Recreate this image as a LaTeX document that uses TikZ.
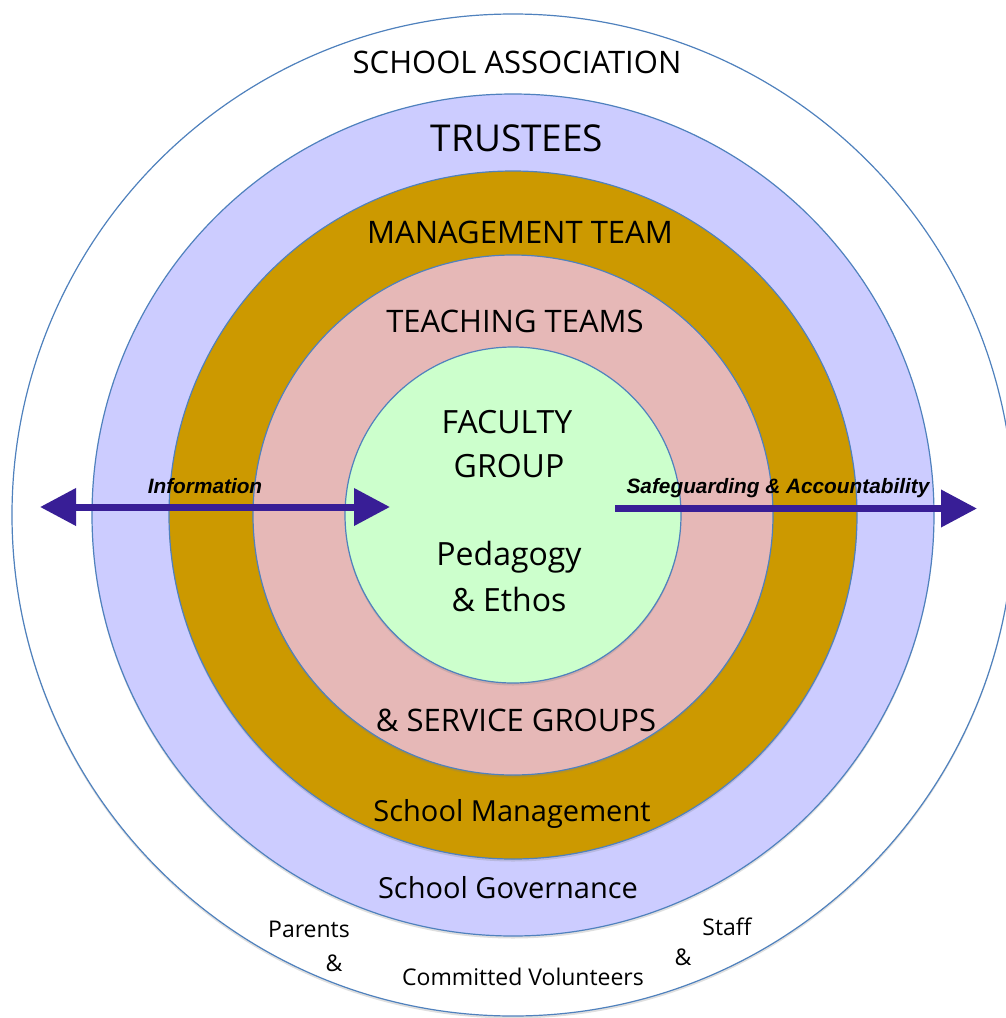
\documentclass[tikz,border=0pt]{standalone}
\usepackage{fontspec}
\setmainfont{Open Sans}
\newfontfamily\arrowfont{Liberation Sans}
\usetikzlibrary{arrows.meta,shadows}

\definecolor{ringline}{RGB}{79,129,189}
\definecolor{governance}{RGB}{204,204,255}
\definecolor{management}{RGB}{204,153,0}
\definecolor{teaching}{RGB}{230,184,183}
\definecolor{faculty}{RGB}{204,255,204}
\definecolor{flow}{RGB}{56,30,150}
\newcommand\ringfont[1]{\fontsize{#1}{#1}\selectfont}

\begin{document}
\begin{tikzpicture}[x=1pt,y=-1pt,
	ring/.style={draw=ringline, line width=1.2pt, drop shadow={opacity=0.25, shadow xshift=0pt, shadow yshift=-2.5pt}},
	ringtext/.style={anchor=base, inner sep=0pt},
	flowarrow/.style={draw=flow, line width=7pt, >={Triangle[length=36pt,width=36pt]}},
	flowtext/.style={anchor=base, inner sep=0pt, font=\arrowfont\bfseries\itshape\ringfont{20.8}}]
		\useasboundingbox (0,0) rectangle (1006,1018);
		\clip (0,0) rectangle (1006,1018);
		
		%% rings, outside in
		\draw[ring, fill=white] (513,515) circle (501pt);
		\draw[ring, fill=governance] (513,515) circle (421pt);
		\draw[ring, fill=management] (513,515) circle (344pt);
		\draw[ring, fill=teaching] (513,515) circle (260pt);
		\draw[ring, fill=faculty] (513,515) circle (168pt);
		
		\node[ringtext, font=\ringfont{31}] (assoc) at (517,73) {SCHOOL ASSOCIATION};
		\node[ringtext, font=\ringfont{37}] (trustees) at (517,151) {TRUSTEES};
		\node[ringtext, font=\ringfont{31}] (mteam) at (520,243) {MANAGEMENT TEAM};
		\node[ringtext, font=\ringfont{31}] (tteams) at (515,332) {TEACHING TEAMS};
		
		\node[ringtext, font=\ringfont{32}] (faculty1) at (507,433) {FACULTY};
		\node[ringtext, font=\ringfont{32}] (faculty2) at (509,477) {GROUP};
		\node[ringtext, font=\ringfont{32}] (faculty3) at (509,565) {Pedagogy};
		\node[ringtext, font=\ringfont{32}] (faculty4) at (509,611) {\& Ethos};
		
		\node[ringtext, font=\ringfont{31}] (service) at (516,731) {\& SERVICE GROUPS};
		\node[ringtext, font=\ringfont{29}] (schman) at (512,821) {School Management};
		\node[ringtext, font=\ringfont{29}] (schgov) at (508,898) {School Governance};
		
		\node[ringtext, font=\ringfont{23}] (parents) at (309,937) {Parents};
		\node[ringtext, font=\ringfont{23}] (parentsamp) at (334,971) {\&};
		\node[ringtext, font=\ringfont{23}] (volunteers) at (523,985) {Committed Volunteers};
		\node[ringtext, font=\ringfont{23}] (staff) at (727,935) {Staff};
		\node[ringtext, font=\ringfont{23}] (staffamp) at (683,965) {\&};
		
		%% flows across the rings
		\coordinate (infoL) at (40,507);
		\coordinate (infoR) at (390,507);
		\draw[flowarrow, <->] (infoL) -- (infoR);
		\node[flowtext] (info) at (205,493) {Information};
		
		\coordinate (safeL) at (615,508.5);
		\coordinate (safeR) at (977,508.5);
		\draw[flowarrow, ->] (safeL) -- (safeR);
		\node[flowtext] (safe) at (778,493) {Safeguarding \& Accountability};
	\end{tikzpicture}
\end{document}
